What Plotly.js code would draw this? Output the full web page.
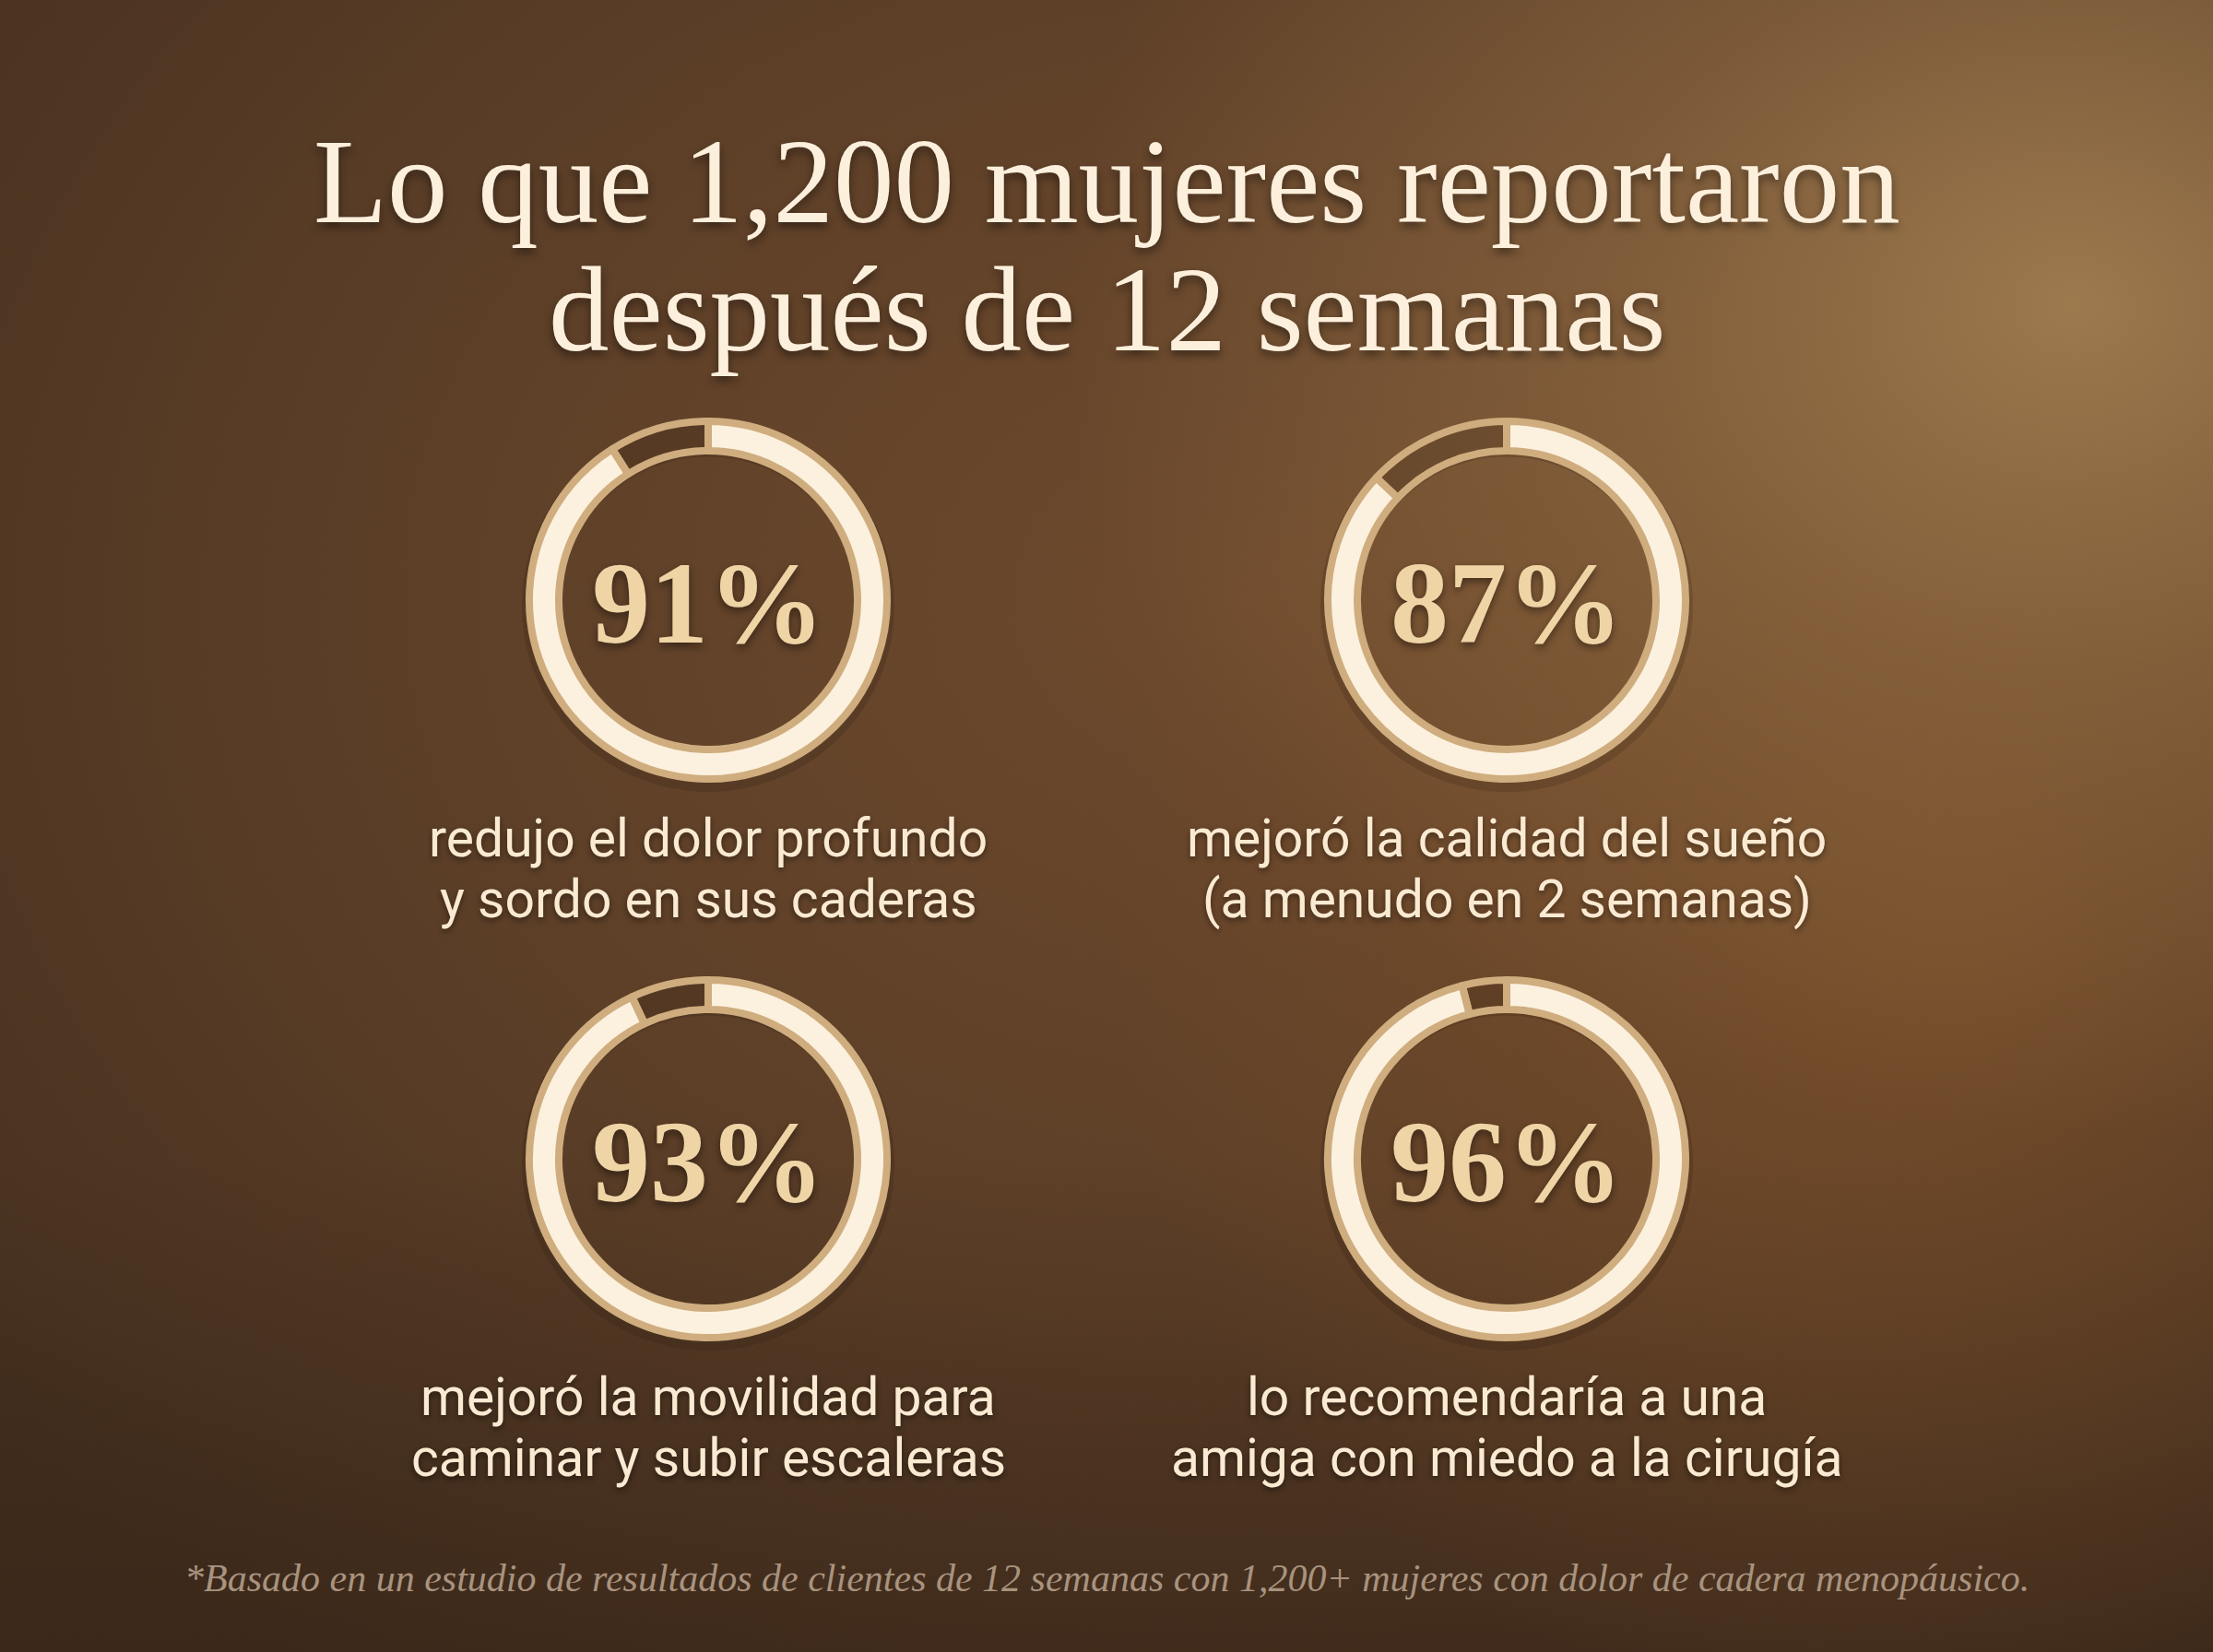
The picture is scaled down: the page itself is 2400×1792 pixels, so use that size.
<!DOCTYPE html>
<html>
<head>
<meta charset="utf-8">
<script src="https://cdn.plot.ly/plotly-3.0.1.min.js"></script>
<style>
  html, body { margin: 0; padding: 0; }
  #chart {
    width: 2400px; height: 1792px;
    background:
      radial-gradient(ellipse 1100px 900px at 2250px 330px, rgba(160,124,80,0.95) 0%, rgba(145,108,68,0.6) 45%, rgba(140,100,60,0) 100%),
      radial-gradient(ellipse 900px 900px at 2100px 1000px, rgba(128,82,42,0.7) 0%, rgba(120,80,44,0) 100%),
      linear-gradient(180deg, rgba(0,0,0,0) 70%, rgba(40,25,16,0.35) 100%),
      radial-gradient(ellipse 1800px 1400px at 1350px 650px, #6e4a2d 0%, #5b3e27 55%, #45301f 100%);
  }
</style>
</head>
<body>
<div id="chart"></div>
<script>
// ---- data ----
const percentages = [91, 87, 93, 96];
const percentLabels = ['91%', '87%', '93%', '96%'];
const captionLine1 = ['redujo el dolor profundo', 'mejoró la calidad del sueño', 'mejoró la movilidad para', 'lo recomendaría a una'];
const captionLine2 = ['y sordo en sus caderas', '(a menudo en 2 semanas)', 'caminar y subir escaleras', 'amiga con miedo a la cirugía'];
const titleLines = ['Lo que 1,200 mujeres reportaron', 'después de 12 semanas'];
const footnote = '*Basado en un estudio de resultados de clientes de 12 semanas con 1,200+ mujeres con dolor de cadera menopáusico.';

// ---- layout constants ----
const W = 2400, H = 1792;
const centersX = [768, 1634, 768, 1634];
const centersY = [651, 651, 1257, 1257];
const R = 194;          // geometric outer radius of the ring
const HOLE = 0.835;     // inner/outer
const CREAM = '#fcf1df';
const GOLD = '#cfad7e';

const traces = [];
const annotations = [];

percentages.forEach((p, i) => {
  const cx = centersX[i], cy = centersY[i];
  // soft shadow ring
  traces.push({
    type: 'pie', values: [1], sort: false, hole: 0.80,
    marker: { colors: ['rgba(30,18,10,0.16)'], line: { width: 0 } },
    textinfo: 'none', hoverinfo: 'skip', showlegend: false,
    domain: { x: [(cx - R - 8) / W, (cx + R + 8) / W], y: [1 - (cy + 6 + R + 8) / H, 1 - (cy + 6 - R - 8) / H] }
  });
  traces.push({
    type: 'pie',
    values: [p, 100 - p],
    sort: false,
    direction: 'clockwise',
    rotation: 0,
    hole: HOLE,
    marker: { colors: [CREAM, 'rgba(0,0,0,0)'], line: { color: GOLD, width: 8 } },
    textinfo: 'none', hoverinfo: 'skip', showlegend: false,
    domain: { x: [(cx - R) / W, (cx + R) / W], y: [1 - (cy + R) / H, 1 - (cy - R) / H] }
  });
  annotations.push({
    xref: 'paper', yref: 'paper', x: cx / W, y: 1 - (cy + 3) / H,
    xanchor: 'center', yanchor: 'middle', showarrow: false,
    text: percentLabels[i],
    font: { family: 'Liberation Serif, serif', size: 126, color: '#efd4a6', weight: 700,
            shadow: '0px 4px 8px rgba(0,0,0,0.45)' }
  });
  const capY1 = cy + 258, capY2 = cy + 324;
  [[captionLine1[i], capY1], [captionLine2[i], capY2]].forEach(([t, y]) => {
    annotations.push({
      xref: 'paper', yref: 'paper', x: cx / W, y: 1 - y / H,
      xanchor: 'center', yanchor: 'middle', showarrow: false,
      text: t,
      font: { family: 'Roboto, Inter, sans-serif', size: 57, color: '#fbead2',
              shadow: '0px 3px 6px rgba(0,0,0,0.45)' }
    });
  });
});

const titleY = [196, 335];
titleLines.forEach((t, k) => {
  annotations.push({
    xref: 'paper', yref: 'paper', x: 0.5, y: 1 - titleY[k] / H,
    xanchor: 'center', yanchor: 'middle', showarrow: false,
    text: t,
    font: { family: 'Liberation Serif, serif', size: 131, color: '#fcefdc',
            shadow: '0px 5px 10px rgba(0,0,0,0.45)' }
  });
});

annotations.push({
  xref: 'paper', yref: 'paper', x: 0.5, y: 1 - 1712 / H,
  xanchor: 'center', yanchor: 'middle', showarrow: false,
  text: footnote,
  font: { family: 'Liberation Serif, serif', size: 42, color: '#a8937f', style: 'italic' }
});

const layout = {
  width: W, height: H,
  margin: { l: 0, r: 0, t: 0, b: 0 },
  paper_bgcolor: 'rgba(0,0,0,0)',
  plot_bgcolor: 'rgba(0,0,0,0)',
  showlegend: false,
  annotations: annotations
};

Plotly.newPlot('chart', traces, layout, { displayModeBar: false, staticPlot: true });
</script>
</body>
</html>
